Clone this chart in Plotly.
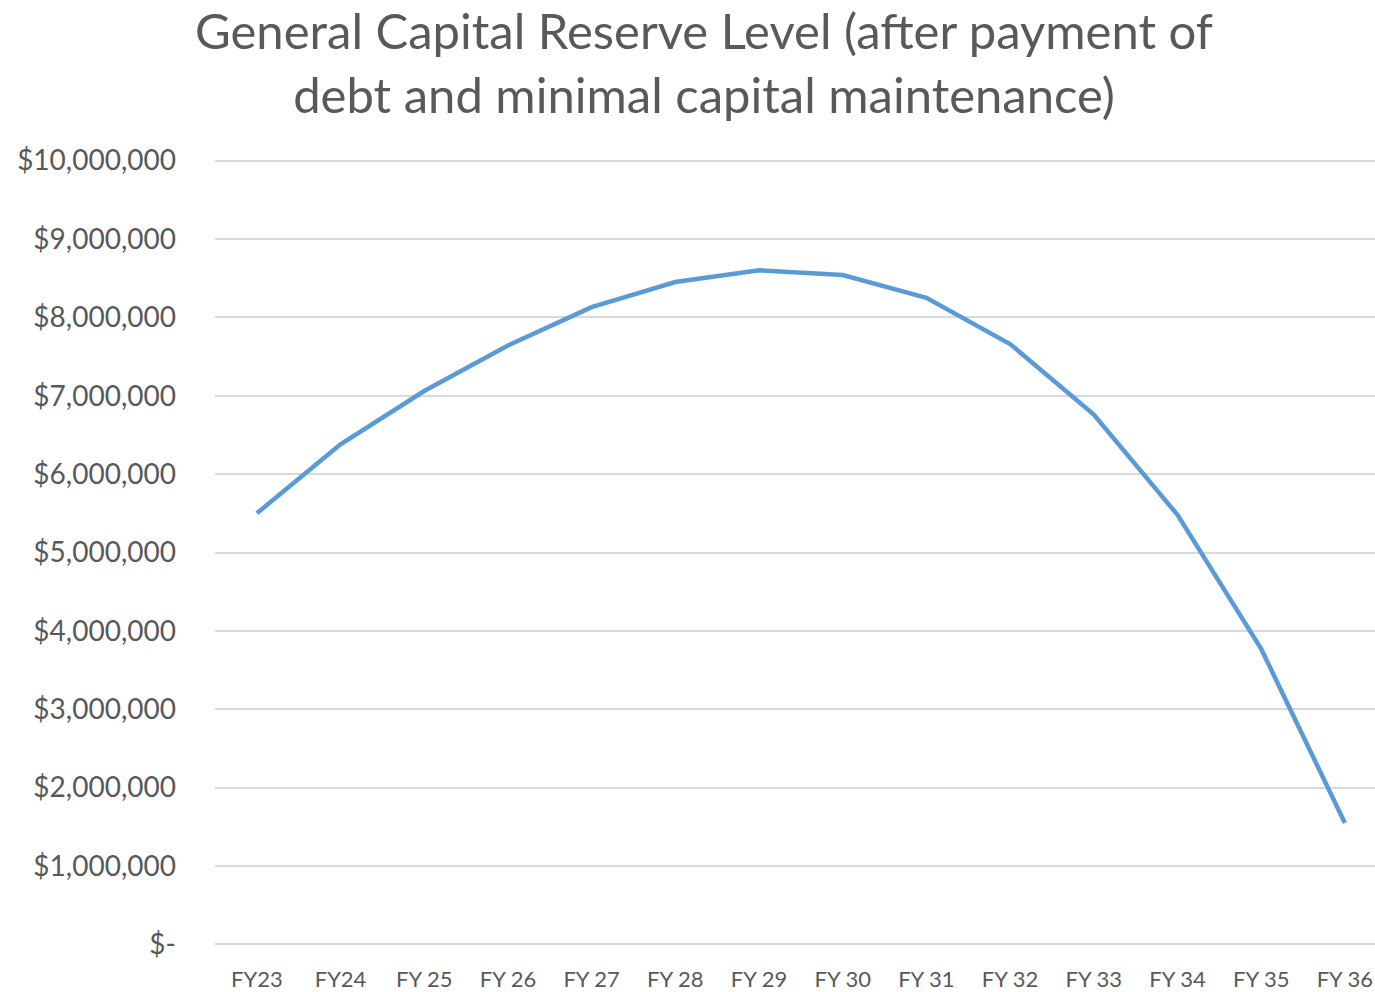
import plotly.graph_objects as go

# Fiscal years and projected reserve balance (USD)
years = ["FY23", "FY24", "FY 25", "FY 26", "FY 27", "FY 28", "FY 29",
         "FY 30", "FY 31", "FY 32", "FY 33", "FY 34", "FY 35", "FY 36"]
reserve = [5500000, 6380000, 7060000, 7640000, 8130000, 8450000, 8600000,
           8540000, 8250000, 7660000, 6760000, 5480000, 3770000, 1550000]

tick_vals = [i * 1000000 for i in range(11)]
tick_text = ["$-"] + [f"${v:,}" for v in tick_vals[1:]]

FONT = "Lato, 'Open Sans', sans-serif"
GRAY = "#595959"

W, H = 1375, 992
M_L, M_R, M_T, M_B = 215, 0, 159, 44
plot_w = W - M_L - M_R
plot_h = H - M_T - M_B

fig = go.Figure(
    go.Scatter(
        x=list(range(len(years))),
        y=reserve,
        mode="lines",
        line=dict(color="#5B9BD5", width=4.5),
        hoverinfo="skip",
    )
)

# Two-line chart title, centred over the figure
fig.add_annotation(
    text="General Capital Reserve Level (after payment of<br>debt and minimal capital maintenance)",
    xref="paper",
    yref="paper",
    x=(704 - M_L) / plot_w,
    y=1 + M_T / plot_h,
    xanchor="center",
    yanchor="top",
    align="center",
    showarrow=False,
    borderpad=0,
    font=dict(family=FONT, size=49, color=GRAY),
)

fig.update_layout(
    width=W,
    height=H,
    margin=dict(l=M_L, r=M_R, t=M_T, b=M_B),
    paper_bgcolor="white",
    plot_bgcolor="white",
    showlegend=False,
    font=dict(family=FONT, color=GRAY),
    xaxis=dict(
        range=[-0.5, 13.36],
        tickvals=list(range(len(years))),
        ticktext=years,
        showgrid=False,
        zeroline=False,
        showline=False,
        ticks="",
        tickfont=dict(size=22, color=GRAY),
        ticklabelstandoff=18,
        fixedrange=True,
    ),
    yaxis=dict(
        range=[-20000, 10020000],
        tickvals=tick_vals,
        ticktext=tick_text,
        showgrid=True,
        gridcolor="#D9D9D9",
        gridwidth=2,
        zeroline=False,
        showline=False,
        ticks="",
        tickfont=dict(size=28, color=GRAY),
        ticklabelstandoff=38,
        fixedrange=True,
    ),
)

fig.write_html("out.html")
